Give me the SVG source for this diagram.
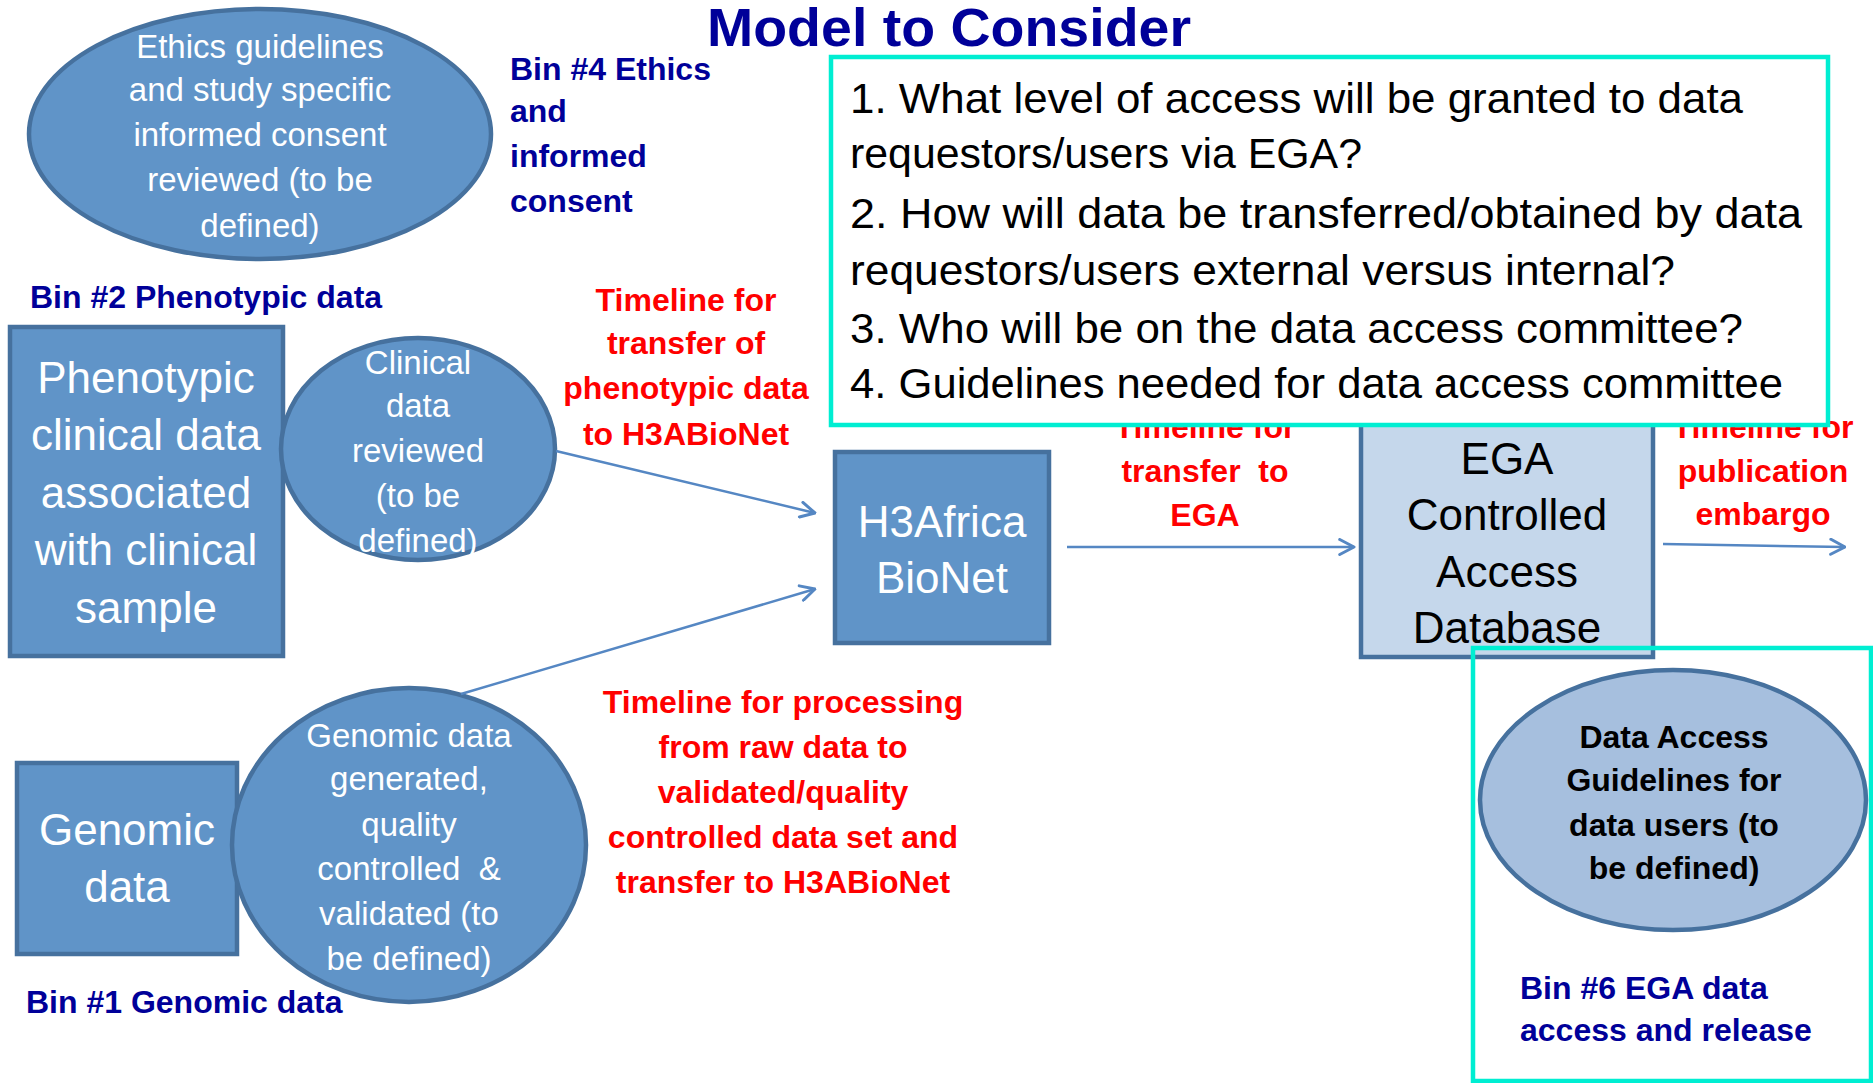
<svg xmlns="http://www.w3.org/2000/svg" width="1873" height="1083" viewBox="0 0 1873 1083">
<style>
  text { font-family: "Liberation Sans", Arial, sans-serif; }
  .node { fill: #6094c8; stroke: #46719e; stroke-width: 4.5; }
  .light { fill: #c5d7eb; stroke: #46719e; stroke-width: 4.5; }
  .mid { fill: #a6bfde; stroke: #46719e; stroke-width: 4.5; }
  .wt { fill: #ffffff; font-size: 33px; text-anchor: middle; }
  .wl { fill: #ffffff; font-size: 44px; text-anchor: middle; }
  .bl { fill: #000000; font-size: 44px; text-anchor: middle; }
  .red { fill: #ff0000; font-size: 32px; font-weight: bold; text-anchor: middle; }
  .bin { fill: #000099; font-size: 32px; font-weight: bold; }
  .q { fill: #000000; font-size: 42px; }
  .da { fill: #000000; font-size: 32px; font-weight: bold; text-anchor: middle; }
  .conn { stroke: #5587c3; stroke-width: 2.5; fill: none; marker-end: url(#chev); }
  .teal { fill: none; stroke: #00eed2; stroke-width: 4.5; }
</style>
<defs>
  <marker id="chev" viewBox="0 0 12 12" refX="11" refY="6" markerWidth="18" markerHeight="18" markerUnits="userSpaceOnUse" orient="auto">
    <path d="M1.5,1 L11,6 L1.5,11" fill="none" stroke="#5587c3" stroke-width="2" stroke-linecap="round" stroke-linejoin="round"/>
  </marker>
</defs>
<rect width="1873" height="1083" fill="#ffffff"/>

<text id="title" x="949" y="46" font-size="54" font-weight="bold" fill="#000099" text-anchor="middle" textLength="484" lengthAdjust="spacingAndGlyphs">Model to Consider</text>

<g id="ethics">
  <ellipse class="node" cx="260" cy="134" rx="231" ry="125"/>
  <text class="wt" x="260" y="58">Ethics guidelines</text>
  <text class="wt" x="260" y="101">and study specific</text>
  <text class="wt" x="260" y="146">informed consent</text>
  <text class="wt" x="260" y="191">reviewed (to be</text>
  <text class="wt" x="260" y="237">defined)</text>
</g>
<g id="bin4">
  <text class="bin" x="510" y="80">Bin #4 Ethics</text>
  <text class="bin" x="510" y="122">and</text>
  <text class="bin" x="510" y="167">informed</text>
  <text class="bin" x="510" y="212">consent</text>
</g>
<g id="bin2"><text class="bin" x="30" y="308">Bin #2 Phenotypic data</text></g>

<g id="phenotypic">
  <rect class="node" x="10" y="327" width="273" height="329"/>
  <text class="wl" x="146" y="393">Phenotypic</text>
  <text class="wl" x="146" y="450">clinical data</text>
  <text class="wl" x="146" y="508">associated</text>
  <text class="wl" x="146" y="565">with clinical</text>
  <text class="wl" x="146" y="623">sample</text>
</g>
<g id="clinical">
  <ellipse class="node" cx="418" cy="449" rx="137" ry="111"/>
  <text class="wt" x="418" y="374">Clinical</text>
  <text class="wt" x="418" y="417">data</text>
  <text class="wt" x="418" y="462">reviewed</text>
  <text class="wt" x="418" y="507">(to be</text>
  <text class="wt" x="418" y="552">defined)</text>
</g>
<g id="label-pheno">
  <text class="red" x="686" y="311">Timeline for</text>
  <text class="red" x="686" y="354">transfer of</text>
  <text class="red" x="686" y="399">phenotypic data</text>
  <text class="red" x="686" y="445">to H3ABioNet</text>
</g>

<g id="genomic">
  <rect class="node" x="17" y="763" width="220" height="191"/>
  <text class="wl" x="127" y="845">Genomic</text>
  <text class="wl" x="127" y="902">data</text>
</g>
<g id="genomic-ellipse">
  <ellipse class="node" cx="409" cy="845" rx="177" ry="157"/>
  <text class="wt" x="409" y="747">Genomic data</text>
  <text class="wt" x="409" y="790">generated,</text>
  <text class="wt" x="409" y="836">quality</text>
  <text class="wt" x="409" y="880" xml:space="preserve">controlled  &amp;</text>
  <text class="wt" x="409" y="925">validated (to</text>
  <text class="wt" x="409" y="970">be defined)</text>
</g>
<g id="bin1"><text class="bin" x="26" y="1013">Bin #1 Genomic data</text></g>
<g id="label-proc">
  <text class="red" x="783" y="713">Timeline for processing</text>
  <text class="red" x="783" y="758">from raw data to</text>
  <text class="red" x="783" y="803">validated/quality</text>
  <text class="red" x="783" y="848">controlled data set and</text>
  <text class="red" x="783" y="893">transfer to H3ABioNet</text>
</g>

<g id="h3africa">
  <rect class="node" x="835" y="452" width="214" height="191"/>
  <text class="wl" x="942" y="537">H3Africa</text>
  <text class="wl" x="942" y="593">BioNet</text>
</g>

<g id="ega">
  <rect class="light" x="1361" y="410" width="292" height="247"/>
  <text class="bl" x="1507" y="474">EGA</text>
  <text class="bl" x="1507" y="530">Controlled</text>
  <text class="bl" x="1507" y="587">Access</text>
  <text class="bl" x="1507" y="643">Database</text>
</g>
<g id="label-ega">
  <text class="red" x="1205" y="438">Timeline for</text>
  <text class="red" x="1205" y="482" xml:space="preserve">transfer  to</text>
  <text class="red" x="1205" y="526">EGA</text>
</g>
<g id="label-pub">
  <text class="red" x="1763" y="438">Timeline for</text>
  <text class="red" x="1763" y="482">publication</text>
  <text class="red" x="1763" y="525">embargo</text>
</g>

<g id="connectors">
  <line class="conn" x1="556" y1="451" x2="815" y2="513"/>
  <line class="conn" x1="461" y1="694" x2="815" y2="589"/>
  <line class="conn" x1="1067" y1="547" x2="1354" y2="547"/>
  <line class="conn" x1="1663" y1="544" x2="1845" y2="547"/>
</g>

<g id="questions">
  <rect x="831" y="57" width="997" height="368" fill="#ffffff" stroke="#00eed2" stroke-width="4.5"/>
  <text class="q" x="850" y="113" textLength="893" lengthAdjust="spacingAndGlyphs">1. What level of access will be granted to data</text>
  <text class="q" x="850" y="168" textLength="512" lengthAdjust="spacingAndGlyphs">requestors/users via EGA?</text>
  <text class="q" x="850" y="228" textLength="952" lengthAdjust="spacingAndGlyphs">2. How will data be transferred/obtained by data</text>
  <text class="q" x="850" y="285" textLength="825" lengthAdjust="spacingAndGlyphs">requestors/users external versus internal?</text>
  <text class="q" x="850" y="343" textLength="893" lengthAdjust="spacingAndGlyphs">3. Who will be on the data access committee?</text>
  <text class="q" x="850" y="398" textLength="933" lengthAdjust="spacingAndGlyphs">4. Guidelines needed for data access committee</text>
</g>

<g id="bin6-frame">
  <rect class="teal" x="1473" y="648" width="398" height="433"/>
</g>
<g id="data-access">
  <ellipse class="mid" cx="1673" cy="800" rx="193" ry="130"/>
  <text class="da" x="1674" y="748">Data Access</text>
  <text class="da" x="1674" y="791">Guidelines for</text>
  <text class="da" x="1674" y="836">data users (to</text>
  <text class="da" x="1674" y="879">be defined)</text>
</g>
<g id="bin6">
  <text class="bin" x="1520" y="999">Bin #6 EGA data</text>
  <text class="bin" x="1520" y="1041">access and release</text>
</g>
</svg>
